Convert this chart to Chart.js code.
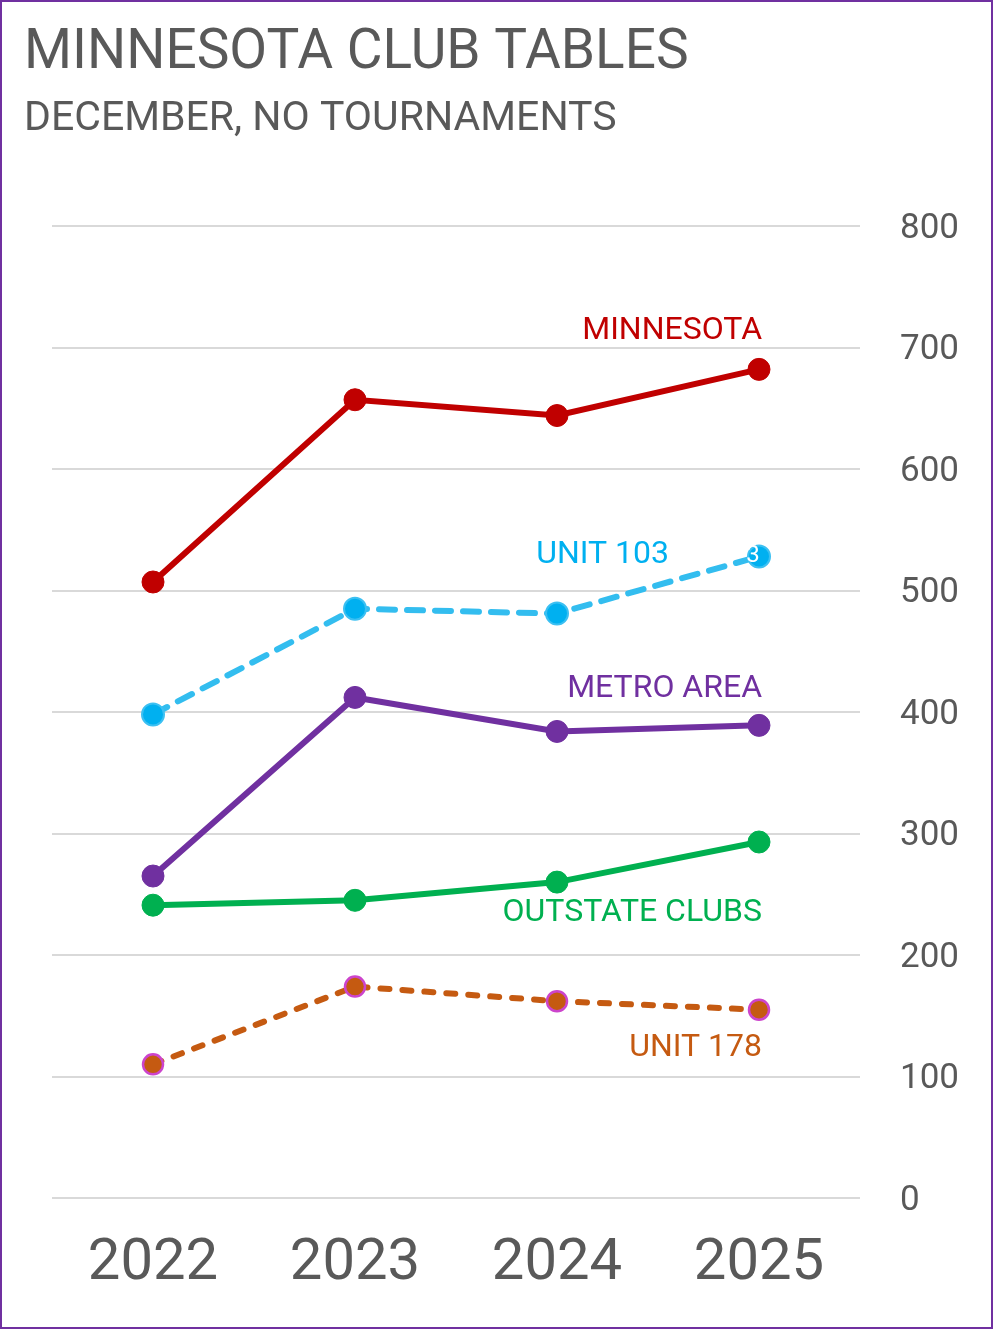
<!DOCTYPE html>
<html>
<head>
<meta charset="utf-8">
<script src="https://cdn.jsdelivr.net/npm/chart.js@4"></script>
<style>
  html, body { margin: 0; padding: 0; background: #fff; }
  #wrap { position: relative; width: 993px; height: 1329px; box-sizing: border-box; border: 2px solid #7030A0; }
  #myChart { display: block; }
</style>
</head>
<body>
<div id="wrap"><canvas id="myChart" width="989" height="1325"></canvas></div>
<script>
(function () {
const years = ['2022', '2023', '2024', '2025'];
const minnesota = [507, 657, 644, 682];
const unit103 = [398, 485, 481, 528];
const metroArea = [265, 412, 384, 389];
const outstateClubs = [241, 245, 260, 293];
const unit178 = [110, 174, 162, 155];
const yTicks = [0, 100, 200, 300, 400, 500, 600, 700, 800];

const TEXT = '#595959';

// series name labels, placed relative to the last point
const seriesLabels = [
  { text: 'MINNESOTA', color: '#C00000', dx: 3, dy: -38 },
  { text: 'UNIT 103', color: '#00B0F0', dx: -90, dy: -1 },
  { text: 'METRO AREA', color: '#7030A0', dx: 3, dy: -36 },
  { text: 'OUTSTATE CLUBS', color: '#00B050', dx: 3, dy: 71 },
  { text: 'UNIT 178', color: '#C55A11', dx: 3, dy: 38 }
];

const labelPlugin = {
  id: 'labelPlugin',
  afterDraw(chart) {
    const ctx = chart.ctx;
    ctx.save();
    // titles
    ctx.fillStyle = TEXT;
    ctx.textAlign = 'left';
    ctx.textBaseline = 'alphabetic';
    ctx.font = '55px Roboto';
    ctx.fillText('MINNESOTA CLUB TABLES', 22, 66);
    ctx.font = '41px Roboto';
    ctx.fillText('DECEMBER, NO TOURNAMENTS', 22, 128);

    // series labels
    ctx.font = '32px Roboto';
    ctx.textAlign = 'right';
    ctx.textBaseline = 'middle';
    seriesLabels.forEach(function (l, i) {
      const meta = chart.getDatasetMeta(i);
      const pt = meta.data[meta.data.length - 1];
      ctx.fillStyle = l.color;
      ctx.fillText(l.text, pt.x + l.dx, pt.y + l.dy);
    });

    // leftover white label digit on the last UNIT 103 point
    const p103 = chart.getDatasetMeta(1).data[3];
    ctx.fillStyle = '#ffffff';
    ctx.font = '24px Roboto';
    ctx.textAlign = 'center';
    ctx.fillText('3', p103.x - 6, p103.y);
    ctx.restore();
  }
};

function series(values, color, extra) {
  return Object.assign({
    data: values,
    borderColor: color,
    backgroundColor: color,
    pointBackgroundColor: color,
    pointBorderColor: color,
    borderWidth: 6,
    pointRadius: 11,
    pointHoverRadius: 11,
    pointBorderWidth: 1,
    tension: 0
  }, extra || {});
}

const data = {
  labels: years,
  datasets: [
    series(minnesota, '#C00000'),
    series(unit103, '#33BDEF', {
      borderDash: [16, 12],
      borderCapStyle: 'round',
      pointBackgroundColor: '#00B0F0',
      pointBorderColor: '#3CC0F2',
      pointBorderWidth: 2
    }),
    series(metroArea, '#7030A0'),
    series(outstateClubs, '#00B050'),
    series(unit178, '#C55A11', {
      borderDash: [9, 13],
      borderCapStyle: 'round',
      pointRadius: 10,
      pointHoverRadius: 10,
      pointBorderColor: '#CC44CC',
      pointBorderWidth: 2.5
    })
  ]
};

const config = {
  type: 'line',
  data: data,
  options: {
    responsive: false,
    animation: false,
    layout: { padding: { left: 50, top: 224, right: 31, bottom: 0 } },
    plugins: {
      legend: { display: false },
      tooltip: { enabled: false }
    },
    scales: {
      x: {
        offset: true,
        grid: { display: false, drawTicks: false },
        border: { display: false },
        ticks: {
          color: TEXT,
          font: { family: 'Roboto', size: 58 },
          padding: 32
        },
        afterFit(scale) { scale.height = 129; }
      },
      y: {
        position: 'right',
        min: 0,
        max: 800,
        afterBuildTicks(scale) { scale.ticks = yTicks.map(v => ({ value: v })); },
        grid: { color: '#D9D9D9', lineWidth: 2, drawTicks: false },
        border: { display: false },
        ticks: {
          color: TEXT,
          font: { family: 'Roboto', size: 35 },
          padding: 40,
          labelOffset: 3
        },
        afterFit(scale) { scale.width = 100; }
      }
    }
  },
  plugins: [labelPlugin]
};

var myChart = new Chart(
  document.getElementById('myChart'),
  config
);
})();
</script>
</body>
</html>
